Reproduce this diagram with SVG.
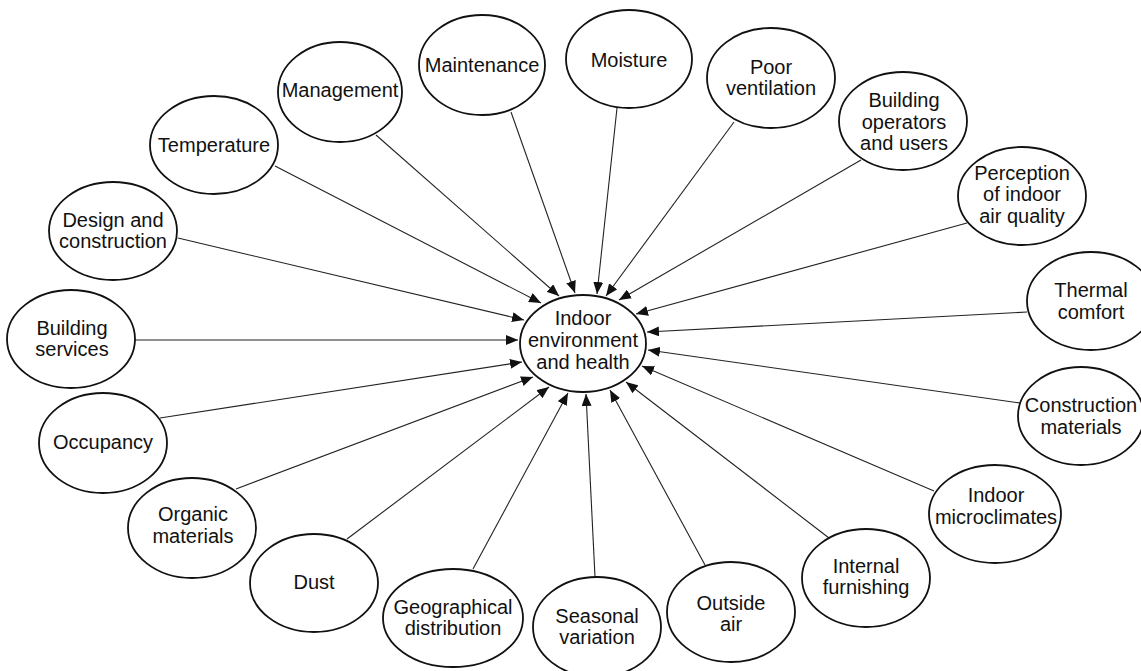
<svg xmlns="http://www.w3.org/2000/svg" width="1141" height="671" viewBox="0 0 1141 671">
<defs>
<style>
.n ellipse{fill:#fff;stroke:#111;stroke-width:1.8}
.n text{font-family:"Liberation Sans",Arial,sans-serif;font-size:20px;fill:#111;text-anchor:middle}
.c line{stroke:#222;stroke-width:1.1;marker-end:url(#ah)}
</style>
<marker id="ah" markerUnits="userSpaceOnUse" markerWidth="13" markerHeight="10" refX="12" refY="5" orient="auto">
<path d="M0,0 L12,5 L0,10 z" fill="#111"/>
</marker>
</defs>
<rect width="1141" height="671" fill="#fff"/>
<g id="connectors" class="c">
<line x1="275" y1="166" x2="541" y2="303"/>
<line x1="376" y1="135" x2="559" y2="296"/>
<line x1="511" y1="112" x2="575" y2="293"/>
<line x1="617" y1="108" x2="597" y2="294"/>
<line x1="734" y1="122" x2="606" y2="296"/>
<line x1="861" y1="160" x2="619" y2="300"/>
<line x1="967" y1="223" x2="636" y2="314"/>
<line x1="1027" y1="312" x2="647" y2="332"/>
<line x1="1020" y1="403" x2="648" y2="350"/>
<line x1="934" y1="491" x2="642" y2="366"/>
<line x1="829" y1="538" x2="626" y2="382"/>
<line x1="705" y1="565" x2="610" y2="390"/>
<line x1="595" y1="577" x2="586" y2="394"/>
<line x1="473" y1="569" x2="568" y2="393"/>
<line x1="347" y1="539" x2="549" y2="387"/>
<line x1="236" y1="489" x2="533" y2="377"/>
<line x1="160" y1="418" x2="522" y2="362"/>
<line x1="135" y1="340" x2="518" y2="340"/>
<line x1="178" y1="238" x2="524" y2="320"/>
</g>
<g id="center" class="n"><ellipse cx="583" cy="343.5" rx="63" ry="48.5"/><text x="583" y="325">Indoor</text><text x="583" y="347">environment</text><text x="583" y="369">and health</text></g>
<g id="maintenance" class="n"><ellipse cx="482" cy="65" rx="63" ry="50"/><text x="482" y="72">Maintenance</text></g>
<g id="management" class="n"><ellipse cx="340" cy="92" rx="62" ry="50"/><text x="340" y="97">Management</text></g>
<g id="temperature" class="n"><ellipse cx="214" cy="145" rx="64" ry="49"/><text x="214" y="152">Temperature</text></g>
<g id="design" class="n"><ellipse cx="113" cy="231" rx="64" ry="49"/><text x="113" y="227">Design and</text><text x="113" y="248">construction</text></g>
<g id="building-services" class="n"><ellipse cx="71" cy="339" rx="64" ry="49"/><text x="72" y="335">Building</text><text x="72" y="356">services</text></g>
<g id="occupancy" class="n"><ellipse cx="103" cy="443" rx="64" ry="50"/><text x="103" y="449">Occupancy</text></g>
<g id="organic" class="n"><ellipse cx="192" cy="528" rx="64" ry="50"/><text x="193" y="521">Organic</text><text x="193" y="543">materials</text></g>
<g id="dust" class="n"><ellipse cx="314" cy="583" rx="64" ry="49"/><text x="314" y="589">Dust</text></g>
<g id="geographical" class="n"><ellipse cx="453" cy="618" rx="70" ry="49"/><text x="453" y="614">Geographical</text><text x="453" y="635">distribution</text></g>
<g id="seasonal" class="n"><ellipse cx="597" cy="627" rx="64" ry="50"/><text x="597" y="623">Seasonal</text><text x="597" y="644">variation</text></g>
<g id="outside-air" class="n"><ellipse cx="731" cy="612" rx="64" ry="50"/><text x="731" y="610">Outside</text><text x="731" y="631">air</text></g>
<g id="internal" class="n"><ellipse cx="866" cy="578" rx="64" ry="49"/><text x="866" y="573">Internal</text><text x="866" y="594">furnishing</text></g>
<g id="microclimates" class="n"><ellipse cx="995" cy="514" rx="66" ry="49"/><text x="996" y="502">Indoor</text><text x="996" y="524">microclimates</text></g>
<g id="construction" class="n"><ellipse cx="1081" cy="416" rx="63" ry="49"/><text x="1081" y="412">Construction</text><text x="1081" y="434">materials</text></g>
<g id="thermal" class="n"><ellipse cx="1091" cy="301" rx="64" ry="49"/><text x="1091" y="297">Thermal</text><text x="1091" y="319">comfort</text></g>
<g id="perception" class="n"><ellipse cx="1022" cy="196" rx="64" ry="49"/><text x="1022" y="180">Perception</text><text x="1022" y="201">of indoor</text><text x="1022" y="223">air quality</text></g>
<g id="operators" class="n"><ellipse cx="903" cy="121" rx="64" ry="49"/><text x="904" y="107">Building</text><text x="904" y="129">operators</text><text x="904" y="150">and users</text></g>
<g id="ventilation" class="n"><ellipse cx="771" cy="78" rx="64" ry="50"/><text x="771" y="74">Poor</text><text x="771" y="95">ventilation</text></g>
<g id="moisture" class="n"><ellipse cx="629" cy="59" rx="63" ry="49"/><text x="629" y="67">Moisture</text></g>
</svg>
